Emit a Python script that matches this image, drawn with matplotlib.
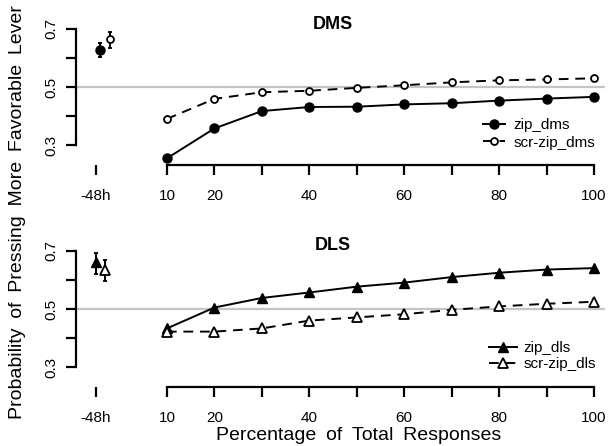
import matplotlib
matplotlib.use("Agg")
import matplotlib.pyplot as plt
import numpy as np

plt.rcParams['font.family'] = ['Liberation Sans', 'DejaVu Sans']

pct = [10, 20, 30, 40, 50, 60, 70, 80, 90, 100]
zip_dms = [0.254, 0.357, 0.417, 0.431, 0.432, 0.440, 0.444, 0.453, 0.460, 0.466]
scr_zip_dms = [0.390, 0.459, 0.482, 0.487, 0.497, 0.506, 0.516, 0.523, 0.526, 0.530]
zip_dls = [0.433, 0.505, 0.538, 0.557, 0.577, 0.591, 0.610, 0.625, 0.636, 0.641]
scr_zip_dls = [0.422, 0.422, 0.433, 0.460, 0.471, 0.482, 0.497, 0.509, 0.518, 0.525]

# -48h baseline points: x position, mean, lower, upper
dms_base_x = [-4.2, -2.1]
dms_base = [0.628, 0.664]
dms_lo = [0.603, 0.636]
dms_hi = [0.653, 0.691]
dls_base_x = [-5.0, -3.0]
dls_base = [0.663, 0.634]
dls_lo = [0.621, 0.597]
dls_hi = [0.694, 0.669]

xticks = [-5, 10, 20, 30, 40, 50, 60, 70, 80, 90, 100]
xticklabels = ['-48h', '10', '20', '', '40', '', '60', '', '80', '', '100']
yticks = [0.3, 0.4, 0.5, 0.6, 0.7]
yticklabels = ['0.3', '', '0.5', '', '0.7']

W, H = 610, 446
fig = plt.figure(figsize=(W / 100, H / 100), dpi=100)

xlim = (-9.16, 102.3)
ylim = (0.231, 0.75)
left_px, right_px = 76, 605


def make_ax(bottom_px, top_px):
    ax = fig.add_axes([left_px / W, 1 - bottom_px / H,
                       (right_px - left_px) / W, (bottom_px - top_px) / H])
    ax.set_xlim(*xlim)
    ax.set_ylim(*ylim)
    for s in ['top', 'right']:
        ax.spines[s].set_visible(False)
    ax.spines['left'].set_bounds(0.3, 0.7)
    ax.spines['bottom'].set_bounds(10, 100)
    for s in ['left', 'bottom']:
        ax.spines[s].set_linewidth(1.6)
    ax.set_xticks(xticks)
    ax.set_xticklabels(xticklabels, fontsize=11)
    ax.set_yticks(yticks)
    ax.set_yticklabels(yticklabels, fontsize=11, rotation=90, va='center')
    ax.tick_params(axis='both', direction='out', length=7.5, width=1.6)
    ax.tick_params(axis='x', pad=9.5)
    ax.tick_params(axis='y', pad=5)
    ax.axhline(0.5, color='#c4c4c4', lw=1.6, zorder=0)
    return ax


ax1 = make_ax(165, 14.5)
ax2 = make_ax(387, 236.5)

dash = (5, 3.5)
# DMS
ax1.plot(pct, zip_dms, '-', color='black', lw=1.4, marker='o', ms=6.5,
         mfc='black', mec='black', label='zip_dms')
ax1.plot(pct, scr_zip_dms, '--', dashes=dash, color='black', lw=1.4, marker='o',
         ms=5, mfc='white', mec='black', mew=1.3, label='scr-zip_dms')
ax1.errorbar([dms_base_x[0]], [dms_base[0]],
             yerr=[[dms_base[0] - dms_lo[0]], [dms_hi[0] - dms_base[0]]],
             fmt='o', color='black', ms=6.5, capsize=1.5, elinewidth=1.4, capthick=1.4)
ax1.errorbar([dms_base_x[1]], [dms_base[1]],
             yerr=[[dms_base[1] - dms_lo[1]], [dms_hi[1] - dms_base[1]]],
             fmt='o', color='black', mfc='white', mew=1.3, ms=5, capsize=1.5,
             elinewidth=1.4, capthick=1.4)
ax1.text(44.9, 0.717, 'DMS', fontsize=13, fontweight='bold', ha='center', va='center')
ax1.legend(loc='upper left', bbox_to_anchor=(483 / W, 1 - 118 / H),
           bbox_transform=fig.transFigure, frameon=False, fontsize=11,
           handlelength=1.45, handletextpad=0.55, labelspacing=0.25, borderpad=0,
           borderaxespad=0)

# DLS
ax2.plot(pct, zip_dls, '-', color='black', lw=1.4, marker='^', ms=6.5,
         mfc='black', mec='black', label='zip_dls')
ax2.plot(pct, scr_zip_dls, '--', dashes=dash, color='black', lw=1.4, marker='^',
         ms=7, mfc='white', mec='black', mew=1.3, label='scr-zip_dls')
ax2.errorbar([dls_base_x[0]], [dls_base[0]],
             yerr=[[dls_base[0] - dls_lo[0]], [dls_hi[0] - dls_base[0]]],
             fmt='^', color='black', ms=6.5, capsize=1.5, elinewidth=1.4, capthick=1.4)
ax2.errorbar([dls_base_x[1]], [dls_base[1]],
             yerr=[[dls_base[1] - dls_lo[1]], [dls_hi[1] - dls_base[1]]],
             fmt='^', color='black', mfc='white', mew=1.3, ms=7, capsize=1.5,
             elinewidth=1.4, capthick=1.4)
ax2.text(44.9, 0.72, 'DLS', fontsize=13, fontweight='bold', ha='center', va='center')
ax2.legend(loc='upper left', bbox_to_anchor=(489 / W, 1 - 341 / H),
           bbox_transform=fig.transFigure, frameon=False, fontsize=11,
           handlelength=1.85, handletextpad=0.4, labelspacing=0.15, borderpad=0,
           borderaxespad=0)

fig.text(358.5 / W, 1 - 435 / H,
         'Percentage\u2002of\u2002Total\u2002Responses', fontsize=14,
         ha='center', va='center')
fig.text(18 / W, 1 - 212 / H,
         'Probability\u2002of\u2002Pressing\u2002More\u2002Favorable\u2002Lever',
         fontsize=14, rotation=90, ha='center', va='center')

fig.savefig('out.png', dpi=100)
